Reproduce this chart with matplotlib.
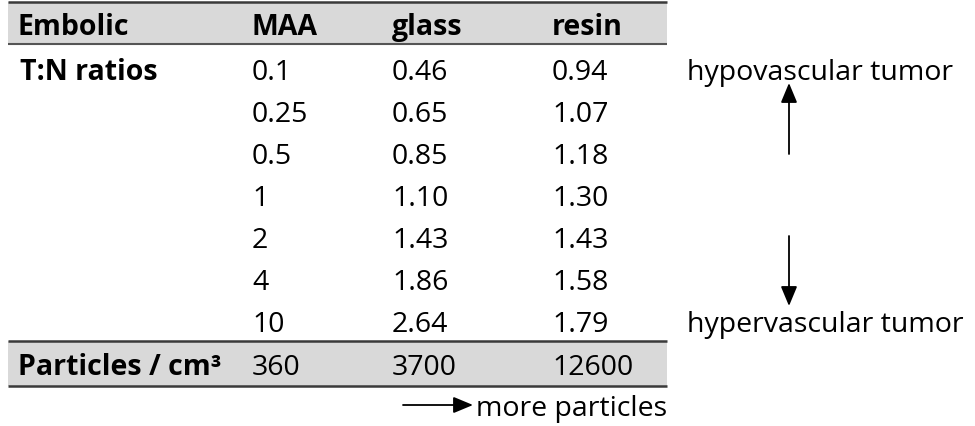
import matplotlib
matplotlib.use("Agg")
import matplotlib.pyplot as plt
from matplotlib.patches import Rectangle

header = ["Embolic", "MAA", "glass", "resin"]
row_label = "T:N ratios"
maa = ["0.1", "0.25", "0.5", "1", "2", "4", "10"]
glass = ["0.46", "0.65", "0.85", "1.10", "1.43", "1.86", "2.64"]
resin = ["0.94", "1.07", "1.18", "1.30", "1.43", "1.58", "1.79"]
particles_label = "Particles / cm³"
particles = ["360", "3700", "12600"]
top_note = "hypovascular tumor"
bottom_note = "hypervascular tumor"
right_note = "more particles"

W, H = 975, 427
fig = plt.figure(figsize=(W / 100, H / 100), dpi=100)
ax = fig.add_axes([0, 0, 1, 1])
ax.set_xlim(0, W)
ax.set_ylim(H, 0)
ax.axis("off")

FONT = "Open Sans"
FS = 20.5
col_x = [18, 252, 392, 552]
tbl_l, tbl_r = 8, 667
gray = "#d9d9d9"
line_c = "#3a3a3a"

# header band
ax.add_patch(Rectangle((tbl_l, 3), tbl_r - tbl_l, 42, facecolor=gray, edgecolor="none"))
ax.plot([tbl_l, tbl_r], [3, 3], color=line_c, lw=1.8, solid_capstyle="butt")
ax.plot([tbl_l, tbl_r], [45, 45], color="#555555", lw=1.5, solid_capstyle="butt")
for x, t in zip(col_x, header):
    ax.text(x, 35, t, fontsize=FS, fontweight="bold", family=FONT, va="baseline", ha="left")

# body rows
y0, dy = 80, 42
ax.text(col_x[0] + 2, y0, row_label, fontsize=FS, fontweight="bold", family=FONT, va="baseline", ha="left")
for i, (a, b, c) in enumerate(zip(maa, glass, resin)):
    y = y0 + i * dy
    for x, t in zip(col_x[1:], (a, b, c)):
        ax.text(x, y, t, fontsize=FS, family=FONT, va="baseline", ha="left")

# particles band
ax.add_patch(Rectangle((tbl_l, 342), tbl_r - tbl_l, 45, facecolor=gray, edgecolor="none"))
ax.plot([tbl_l, tbl_r], [342, 342], color=line_c, lw=1.8, solid_capstyle="butt")
ax.plot([tbl_l, tbl_r], [387, 387], color=line_c, lw=1.8, solid_capstyle="butt")
ax.text(col_x[0], 375, particles_label, fontsize=FS, fontweight="bold", family=FONT, va="baseline", ha="left")
for x, t in zip(col_x[1:], particles):
    ax.text(x, 375, t, fontsize=FS, family=FONT, va="baseline", ha="left")

# right annotations
ax.text(687, y0, top_note, fontsize=FS, family=FONT, va="baseline", ha="left")
ax.text(687, y0 + 6 * dy, bottom_note, fontsize=FS, family=FONT, va="baseline", ha="left")
ap = dict(arrowstyle="-|>,head_length=1.2,head_width=0.5", color="black", lw=1.3, shrinkA=0, shrinkB=0)
ax.annotate("", xy=(789, 84), xytext=(789, 155), arrowprops=ap)
ax.annotate("", xy=(789, 307), xytext=(789, 237), arrowprops=ap)

# more particles
ax.annotate("", xy=(473, 406), xytext=(403, 406), arrowprops=ap)
ax.text(476, 416, right_note, fontsize=FS, family=FONT, va="baseline", ha="left")

fig.savefig("out.png", dpi=100, facecolor="white")
